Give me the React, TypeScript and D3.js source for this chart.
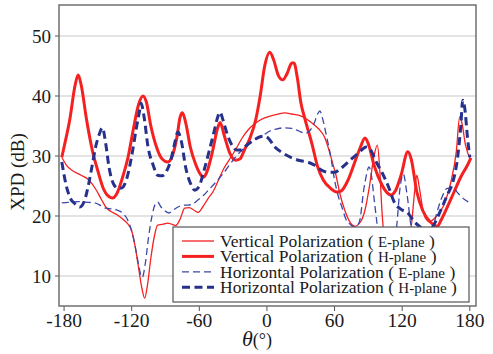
import React from 'react';
import * as d3 from 'd3';

// angle (deg), XPD (dB)
const vertE: [number, number][] = [
  [-182, 29.8], [-178, 28.5], [-172, 27.5], [-165, 26.8], [-158, 26], [-152, 24.5], [-147, 22.8],
  [-143, 21.5], [-138, 20.7], [-133, 20.2], [-128, 19.5], [-124, 18.8], [-120, 17.5], [-117, 15],
  [-114, 11.5], [-111, 8], [-108.5, 6.3], [-106, 8.5], [-103, 13], [-100, 16.5], [-97, 18.5],
  [-93, 18.6], [-88, 18.8], [-84, 18.6], [-81, 18.4], [-77, 19.5], [-73, 21.3], [-69, 21.4],
  [-65, 21], [-61, 20.6], [-57, 21.5], [-52, 23], [-48, 24], [-43, 26], [-38, 28], [-34, 29.2],
  [-28, 31], [-22, 33], [-16, 34.5], [-10, 35.5], [-4, 36.2], [2, 36.6], [10, 37], [16, 37.2],
  [22, 37], [28, 36.8], [34, 36.3], [40, 35.5], [46, 34.5], [51, 33.2], [55, 31], [58, 29],
  [61, 27], [65, 23.5], [69, 21], [73, 19.2], [78, 18.3], [83, 19], [87, 21], [91, 25], [95, 30],
  [98, 31.8], [100, 28], [102, 21], [105, 15], [110, 12], [118, 12], [125, 15], [128.5, 19],
  [131, 24], [133, 26.8], [135, 25], [138, 21.5], [141, 19.5], [144.5, 19], [148, 19.5],
  [153, 20.5], [158, 22.3], [163, 25.5], [168, 30.7], [171, 36.5], [173, 35.5], [176, 32], [181, 29.3],
];

const vertH: [number, number][] = [
  [-182, 29.8], [-180, 31.5], [-175, 36], [-170, 42], [-167.5, 43.5], [-165, 42], [-160, 36],
  [-155, 31], [-150, 27.5], [-145, 24.5], [-140, 23.2], [-137, 23], [-133, 23.8], [-128, 26.5],
  [-123, 30], [-118, 35], [-114, 38.5], [-110, 40], [-107, 39], [-103, 35], [-98, 31.5],
  [-93, 29.5], [-88, 29], [-84, 30], [-80, 33], [-77, 36.5], [-75, 37.2], [-72, 35.5], [-68, 31.5],
  [-63, 28.5], [-58, 26.7], [-56, 26.5], [-53, 27.5], [-48, 31], [-44, 34.5], [-41.5, 35.6],
  [-38, 33.5], [-33, 30.5], [-28, 29.3], [-24, 29.5], [-20, 31], [-15, 33], [-10, 36], [-6, 40],
  [-2, 45], [2.5, 47.3], [6, 46], [10, 43.5], [14, 42.7], [18, 43.8], [22, 45.5], [24, 45.5],
  [27, 43], [30, 39], [34, 36], [40, 32], [45, 28.2], [50, 26], [56, 24.7], [62, 24], [66, 24.2],
  [72, 26], [78, 29], [83, 31.5], [87, 33], [90, 32], [95, 28.5], [102, 25.2], [106, 24],
  [110, 23.5], [114, 24.2], [119, 26.8], [125, 30.7], [128, 29.5], [133, 24], [138, 21],
  [145, 19], [151, 18.3], [155, 19.5], [160, 21.5], [166, 24], [172, 26.5], [178, 28.5], [181, 29.7],
];

const horzE: [number, number][] = [
  [-182, 22.2], [-175, 22.3], [-168, 22.4], [-161, 22.3], [-153, 22.2], [-147, 21.7], [-143, 21.3],
  [-138, 21.2], [-133, 21], [-128, 20.5], [-124, 19.5], [-120, 17.5], [-117, 15], [-114, 12],
  [-112, 10.2], [-110.5, 9.8], [-108, 12], [-105, 16.5], [-102, 20], [-99, 22], [-97, 22.3],
  [-94, 21.5], [-90, 20.8], [-87, 20.5], [-83, 21], [-79, 21.5], [-74, 21.8], [-70, 21.8],
  [-66, 22], [-61, 22.7], [-56, 23.5], [-52, 24.3], [-46, 25.5], [-40, 26.8], [-34, 28.3],
  [-28, 29.8], [-22, 31], [-17, 31.8], [-10, 32.8], [-3, 33.5], [1, 34], [8, 34.5], [16, 34.7],
  [22, 34.6], [28, 34.2], [34, 33.8], [38, 34.2], [42, 35.5], [45, 37], [47, 37.5], [49, 36.5],
  [53, 33.2], [57, 29.5], [60, 26], [63, 23.5], [66.5, 21.5], [70, 19.5], [74, 18.6], [78, 18.2],
  [82, 19], [86, 24.5], [88.5, 27], [90.5, 28.2], [92.5, 27], [95, 23], [97.5, 19], [100, 15],
  [106, 12], [112, 14], [115, 18], [118, 24.5], [121, 27], [124, 24], [128, 18], [132, 13],
  [140, 13], [145, 16], [150, 20], [155, 23], [160, 24.6], [165, 24.7], [170, 23.7], [175, 22.8],
  [180, 22.2],
];

const horzH: [number, number][] = [
  [-182, 29], [-178, 25], [-174, 22.8], [-170, 22], [-166, 21.5], [-162, 22.5], [-158, 25.5],
  [-155, 28.5], [-152, 31.5], [-149, 33.5], [-146, 34.7], [-143, 32], [-140, 28], [-136, 25.3],
  [-132, 24.6], [-128.6, 24.7], [-124, 26.5], [-120, 30], [-116, 34.5], [-113, 37.5],
  [-111.7, 38.8], [-109, 36.5], [-105.5, 31.5], [-101, 28.5], [-97, 26.8], [-93, 26.7],
  [-89, 27.5], [-85, 29.5], [-82, 32], [-79, 34], [-76, 32.5], [-72, 28], [-68, 25.5], [-64, 24.3],
  [-60, 25], [-56, 27.5], [-51, 31], [-47, 34], [-44, 36.3], [-41.7, 37.3], [-39, 36], [-35, 33.5],
  [-31, 31.8], [-27, 31], [-23, 31], [-18, 31.8], [-12, 32.6], [-6, 33.2], [-3, 33.3], [1, 33],
  [7, 31.5], [14, 30.5], [22, 29.7], [30, 29.2], [36, 29], [42, 28.5], [48, 27.7], [54, 27.3],
  [60, 27.3], [66, 28], [72, 29], [78, 30], [84, 31], [88, 31.5], [92, 31], [97, 29], [102, 27.3],
  [108, 24.8], [113, 22.3], [120, 21], [125, 20.5], [131, 19], [137, 18], [142, 17], [148, 18.5],
  [155, 21.3], [160, 23.5], [165, 25.7], [169, 29.5], [172, 35], [173.7, 39.3], [175.5, 38],
  [178, 33], [180, 29.8],
];

const xTicks = [-180, -120, -60, 0, 60, 120, 180];
const yTicks = [10, 20, 30, 40, 50];

const series = [
  { name: 'Vertical Polarization', plane: 'E-plane', data: vertE, color: '#f52020', width: 1.3, dash: '' },
  { name: 'Vertical Polarization', plane: 'H-plane', data: vertH, color: '#f52020', width: 3, dash: '' },
  { name: 'Horizontal Polarization', plane: 'E-plane', data: horzE, color: '#3a48a8', width: 1.3, dash: '7 4' },
  { name: 'Horizontal Polarization', plane: 'H-plane', data: horzH, color: '#25318c', width: 3, dash: '8 4.5' },
];

const W = 493;
const H = 354;
const left = 59, right = 476, top = 5, bottom = 306;
const font = '"Liberation Serif", "Times New Roman", serif';

export default function App() {
  const x = d3.scaleLinear().domain([-184.5, 185.5]).range([left, right]);
  const y = d3.scaleLinear().domain([5, 55.17]).range([bottom, top]);
  const line = d3.line<[number, number]>()
    .x(d => x(d[0]))
    .y(d => y(d[1]))
    .curve(d3.curveMonotoneX);

  const lg = { x: 173, y: 227, w: 296, h: 75 };

  return (
    <svg width={W} height={H} style={{ position: 'absolute', left: 0, top: 0, background: '#fff' }}
      fontFamily={font}>
      <defs>
        <clipPath id="plot">
          <rect x={left} y={top} width={right - left} height={bottom - top} />
        </clipPath>
      </defs>
      {yTicks.map(t => (
        <g key={t}>
          <line x1={left} x2={right} y1={y(t)} y2={y(t)} stroke="#c8c8c8" strokeWidth={1.2} />
          <line x1={left - 4} x2={left} y1={y(t)} y2={y(t)} stroke="#555" strokeWidth={1} />
          <text x={51} y={y(t)} dy="0.35em" textAnchor="end" fontSize={19} fill="#1a1a1a">{t}</text>
        </g>
      ))}
      {xTicks.map(t => (
        <g key={t}>
          <line x1={x(t)} x2={x(t)} y1={bottom} y2={bottom + 5} stroke="#555" strokeWidth={1} />
          <text x={x(t)} y={327} textAnchor="middle" fontSize={19.5} fill="#1a1a1a">{t}</text>
        </g>
      ))}
      <g clipPath="url(#plot)">
        {series.map((s, i) => (
          <path key={i} d={line(s.data) || ''} fill="none" stroke={s.color}
            strokeWidth={s.width} strokeDasharray={s.dash || undefined} strokeLinejoin="round" />
        ))}
      </g>
      <rect x={left} y={top} width={right - left} height={bottom - top} fill="none" stroke="#666" strokeWidth={1.4} />

      <g>
        <rect x={lg.x} y={lg.y} width={lg.w} height={lg.h} fill="#fff" stroke="#555" strokeWidth={1.2} />
        {series.map((s, i) => {
          const cy = lg.y + 14 + i * 15.4;
          return (
            <g key={i}>
              <line x1={182} x2={214} y1={cy} y2={cy} stroke={s.color} strokeWidth={s.width}
                strokeDasharray={s.dash || undefined} />
              <text x={220} y={cy} dy="0.33em" fontSize={17.5} fill="#1a1a1a">
                {s.name + ' ( '}
                <tspan fontSize={15}>{s.plane}</tspan>
                {' )'}
              </text>
            </g>
          );
        })}
      </g>

      <text transform={`translate(24, 172) rotate(-90)`} textAnchor="middle" fontSize={19} fill="#1a1a1a">
        XPD (dB)
      </text>
      <text x={242} y={346} fontSize={22} fill="#1a1a1a">
        <tspan fontStyle="italic">θ</tspan>
        <tspan fontSize={18}>(°)</tspan>
      </text>
    </svg>
  );
}
